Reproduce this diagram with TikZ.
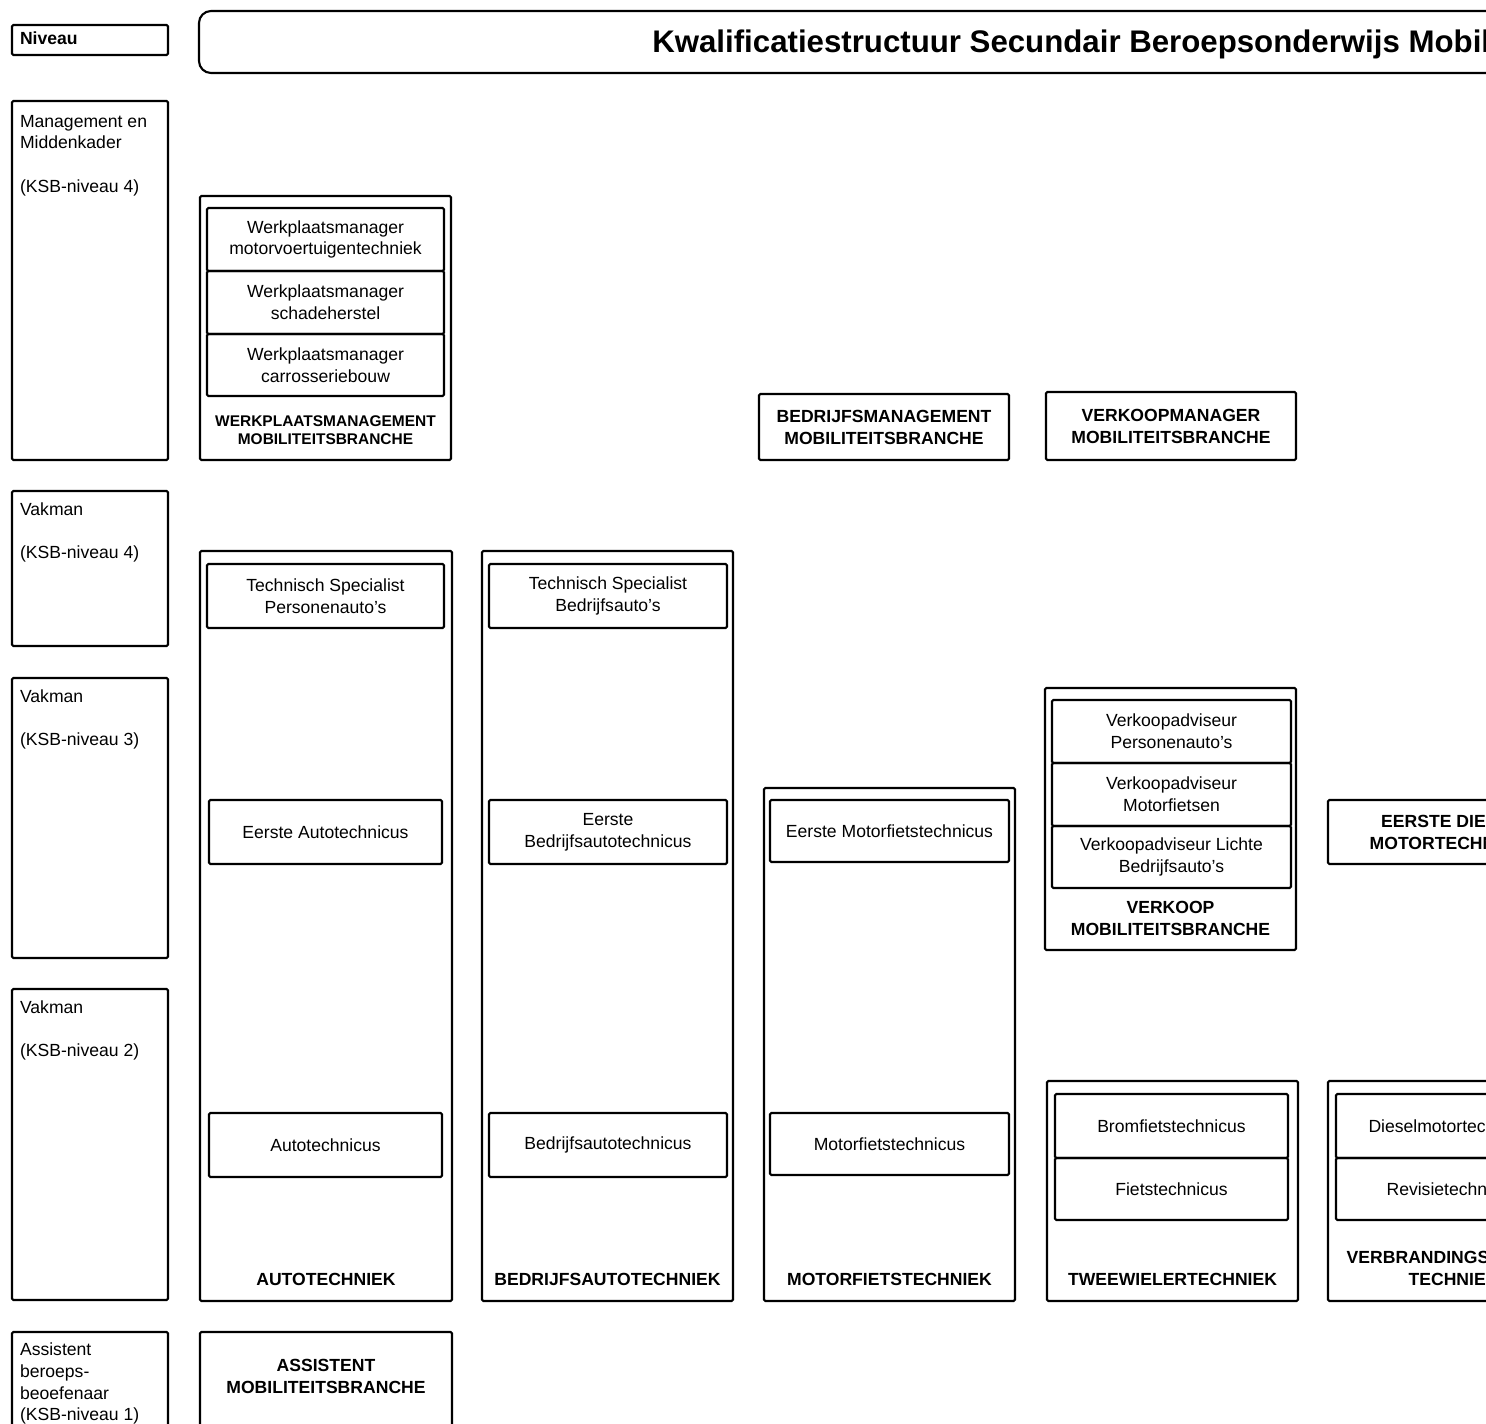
\documentclass[tikz,border=0pt]{standalone}
\usepackage{fontspec}
\setmainfont{Liberation Sans}
\usetikzlibrary{
fit,
positioning,
}
\newcommand{\jobfont}{\fontsize{12.5}{15.4}\selectfont}
\newcommand{\branchfont}{\fontsize{12.5}{15.6}\selectfont\bfseries}
\newcommand{\wmfont}{\fontsize{11}{12.8}\selectfont\bfseries}
\newcommand{\headfont}{\fontsize{22.2}{26}\selectfont\bfseries}
\tikzset{
x=0.025cm, y=-0.025cm,
node distance=0.4cm,
every node/.style={align=center},
box/.style={draw, line width=1.5pt, inner sep=0pt, rounded corners=1pt},
levelbox/.style={box},
groupbox/.style={box},
jobtext/.style={font=\jobfont, inner sep=0pt, align=center},
headtext/.style={font=\branchfont, inner sep=0pt, align=center},
jobbox/.style={box, label={[jobtext]center:#1}},
headbox/.style={box, label={[headtext]center:#1}},
branch/.style={font=\branchfont, inner sep=0pt},
leveltext/.style={font=\jobfont, align=left, inner sep=0pt},
}

\begin{document}
\begin{tikzpicture}
\useasboundingbox (0,0) rectangle (1486,1423);
\clip (0,0) rectangle (1486,1423);
% header
\node (niv) [levelbox, fit={(12,25) (168,55)}] {};
\node [leveltext, font=\jobfont\bfseries, right=0.22cm of niv.west, yshift=0.05cm] {Niveau};
\node (titlebox) [box, rounded corners=0.3cm, fit={(199,11) (1700,73)}] {};
\node [font=\headfont, inner sep=0pt, anchor=base west] at (652,52)
    {Kwalificatiestructuur Secundair Beroepsonderwijs Mobiliteitsbranche};
% levels
\node (lvm) [levelbox, fit={(12,101) (168,460)}] {};
\node (lv4) [levelbox, fit={(12,491) (168,646)}] {};
\node (lv3) [levelbox, fit={(12,678) (168,958)}] {};
\node (lv2) [levelbox, fit={(12,989) (168,1300)}] {};
\node (lv1) [levelbox, fit={(12,1332) (168,1460)}] {};
\node [leveltext, below right=0.37cm and 0.22cm of lvm.north west]
    {Management en\\Middenkader\\[15.4pt](KSB-niveau 4)};
\node [leveltext, below right=0.31cm and 0.22cm of lv4.north west]
    {Vakman\\[15.4pt](KSB-niveau 4)};
\node [leveltext, below right=0.31cm and 0.22cm of lv3.north west]
    {Vakman\\[15.4pt](KSB-niveau 3)};
\node [leveltext, below right=0.31cm and 0.22cm of lv2.north west]
    {Vakman\\[15.4pt](KSB-niveau 2)};
\node [leveltext, below right=0.3cm and 0.22cm of lv1.north west]
    {Assistent\\beroeps-\\beoefenaar\\(KSB-niveau 1)};
% werkplaatsmanagement
\node (wm) [groupbox, fit={(200,196) (451,460)}] {};
\node (wm1) [jobbox={Werkplaatsmanager\\motorvoertuigentechniek}, fit={(207,208) (444,271)}] {};
\node (wm2) [jobbox={Werkplaatsmanager\\schadeherstel}, fit={(207,271) (444,334)}] {};
\node (wm3) [jobbox={Werkplaatsmanager\\carrosseriebouw}, fit={(207,334) (444,396)}] {};
\node [branch, font=\wmfont, above=0.4cm of wm.south] {WERKPLAATSMANAGEMENT\\MOBILITEITSBRANCHE};
% autotechniek
\node (auto) [groupbox, fit={(200,551) (452,1301)}] {};
\node (tsp) [jobbox={Technisch Specialist\\Personenauto's}, fit={(207,564) (444,628)}] {};
\node (eat) [jobbox={Eerste Autotechnicus}, fit={(209,800) (442,864)}] {};
\node (at) [jobbox={Autotechnicus}, fit={(209,1113) (442,1177)}] {};
\node [branch, above=0.4cm of auto.south] {AUTOTECHNIEK};
\node (assist) [groupbox, fit={(200,1332) (452,1460)}] {};
\node [branch, below=0.7cm of assist.north] {ASSISTENT\\MOBILITEITSBRANCHE};
% bedrijfsautotechniek
\node (bat) [groupbox, fit={(482,551) (733,1301)}] {};
\node (tsb) [jobbox={Technisch Specialist\\Bedrijfsauto's}, fit={(489,564) (727,628)}] {};
\node (ebat) [jobbox={Eerste\\Bedrijfsautotechnicus}, fit={(489,800) (727,864)}] {};
\node (bt) [jobbox={Bedrijfsautotechnicus}, fit={(489,1113) (727,1177)}] {};
\node [branch, above=0.4cm of bat.south] {BEDRIJFSAUTOTECHNIEK};
% motorfietstechniek
\node (bm) [headbox={BEDRIJFSMANAGEMENT\\MOBILITEITSBRANCHE}, fit={(759,394) (1009,460)}] {};
\node (mft) [groupbox, fit={(764,788) (1015,1301)}] {};
\node (emf) [jobbox={Eerste Motorfietstechnicus}, fit={(770,800) (1009,862)}] {};
\node (mf) [jobbox={Motorfietstechnicus}, fit={(770,1113) (1009,1175)}] {};
\node [branch, above=0.4cm of mft.south] {MOTORFIETSTECHNIEK};
% verkoop en tweewielers
\node (vm) [headbox={VERKOOPMANAGER\\MOBILITEITSBRANCHE}, fit={(1046,392) (1296,460)}] {};
\node (vk) [groupbox, fit={(1045,688) (1296,950)}] {};
\node (vk1) [jobbox={Verkoopadviseur\\Personenauto's}, fit={(1052,700) (1291,763)}] {};
\node (vk2) [jobbox={Verkoopadviseur\\Motorfietsen}, fit={(1052,763) (1291,826)}] {};
\node (vk3) [jobbox={Verkoopadviseur Lichte\\Bedrijfsauto's}, fit={(1052,826) (1291,888)}] {};
\node [branch, above=0.38cm of vk.south] {VERKOOP\\MOBILITEITSBRANCHE};
\node (tw) [groupbox, fit={(1047,1081) (1298,1301)}] {};
\node (tw1) [jobbox={Bromfietstechnicus}, fit={(1055,1094) (1288,1158)}] {};
\node (tw2) [jobbox={Fietstechnicus}, fit={(1055,1158) (1288,1220)}] {};
\node [branch, above=0.4cm of tw.south] {TWEEWIELERTECHNIEK};
% verbrandingsmotortechniek
\node (eds) [headbox={EERSTE DIESEL-\\MOTORTECHNICUS}, fit={(1328,800) (1579,864)}] {};
\node (vb) [groupbox, fit={(1328,1081) (1579,1301)}] {};
\node (vb1) [jobbox={Dieselmotortechnicus}, fit={(1336,1094) (1569,1158)}] {};
\node (vb2) [jobbox={Revisietechnicus}, fit={(1336,1158) (1569,1220)}] {};
\node [branch, above=0.4cm of vb.south] {VERBRANDINGSMOTOR-\\TECHNIEK};
\end{tikzpicture}
\end{document}
